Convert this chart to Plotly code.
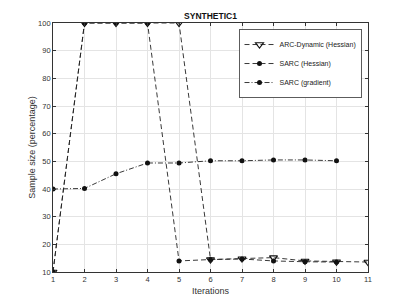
import plotly.graph_objects as go

iters_arc = [1, 2, 3, 4, 5, 6, 7, 8, 9, 10, 11]
arc_dynamic = [10, 100, 100, 100, 100, 14.5, 14.8, 15.2, 14.0, 13.7, 13.6]
iters_sarc = [1, 2, 3, 4, 5, 6, 7, 8, 9, 10]
sarc_hessian = [10, 100, 100, 100, 14.0, 14.5, 14.7, 14.0, 13.7, 13.6]
sarc_gradient = [40, 40.2, 45.5, 49.4, 49.4, 50.2, 50.2, 50.5, 50.5, 50.2]

xticks = list(range(1, 12))
yticks = list(range(10, 101, 10))

font = "Liberation Sans, Arial, sans-serif"
fig = go.Figure()
fig.add_trace(go.Scatter(x=iters_arc, y=arc_dynamic, name="ARC-Dynamic (Hessian)",
                         mode="lines+markers",
                         line=dict(color="#222", width=0.9, dash="5px,3px"),
                         marker=dict(symbol="triangle-down-open", size=7, color="#111",
                                     line=dict(width=1.1, color="#111"))))
fig.add_trace(go.Scatter(x=iters_sarc, y=sarc_hessian, name="SARC (Hessian)",
                         mode="lines+markers",
                         line=dict(color="#222", width=0.9, dash="5px,3px"),
                         marker=dict(symbol="circle", size=5, color="#111")))
fig.add_trace(go.Scatter(x=iters_sarc, y=sarc_gradient, name="SARC (gradient)",
                         mode="lines+markers",
                         line=dict(color="#222", width=0.9, dash="5px,2px,1px,2px"),
                         marker=dict(symbol="circle", size=5, color="#111")))

axis_common = dict(showline=True, linecolor="#333", linewidth=0.8, mirror="ticks",
                   ticks="inside", ticklen=3, tickcolor="#333",
                   showgrid=True, gridcolor="#e4e4e4", gridwidth=0.8,
                   zeroline=False, automargin=False,
                   tickfont=dict(family=font, size=7.5, color="#333"))

fig.update_xaxes(range=[1, 11], tickvals=xticks, **axis_common,
                 title=dict(text="Iterations", font=dict(family=font, size=9, color="#333"),
                            standoff=4))
fig.update_yaxes(range=[10, 100], tickvals=yticks, **axis_common,
                 title=dict(text="Sample size (percentage)", font=dict(family=font, size=9, color="#333"),
                            standoff=0))

fig.update_layout(
    width=407, height=305,
    margin=dict(l=45, r=47, t=15, b=41, autoexpand=False),
    paper_bgcolor="white", plot_bgcolor="white",
    title=dict(text="<b>SYNTHETIC1</b>", x=0.5, xref="paper", y=0.975, yanchor="middle",
               font=dict(family=font, size=8.5, color="#111")),
    legend=dict(x=0.98, y=0.975, xanchor="right", yanchor="top",
                bgcolor="white", bordercolor="#333", borderwidth=0.8,
                font=dict(family=font, size=7, color="#222"),
                tracegroupgap=0, itemwidth=30),
    showlegend=True,
)

fig.write_html("out.html")
